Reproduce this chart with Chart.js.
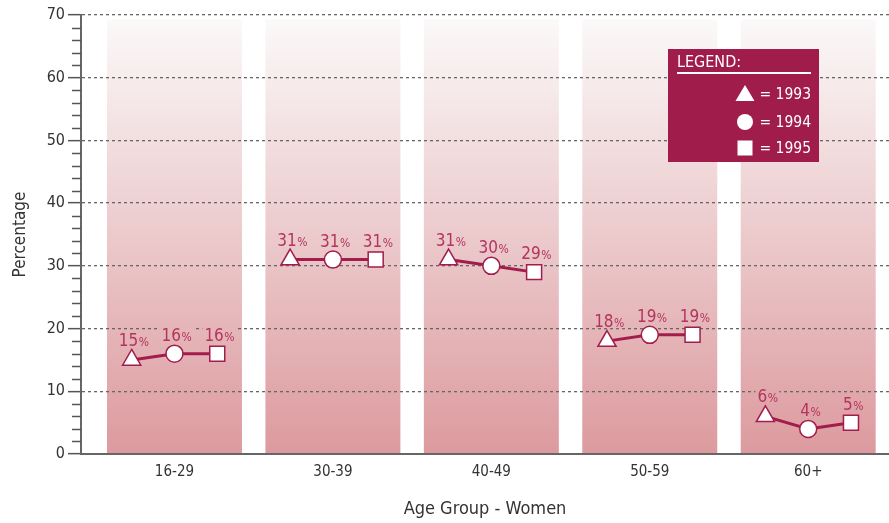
<!DOCTYPE html>
<html>
<head>
<meta charset="utf-8">
<script src="https://cdn.jsdelivr.net/npm/chart.js@4/dist/chart.umd.min.js"></script>
<style>
	html, body { margin: 0; padding: 0; background: #fff; }
</style>
</head>
<body>
<canvas id="lineChart" width="889" height="523"></canvas>
<script>
// chart data
var categories = ['16-29', '30-39', '40-49', '50-59', '60+'];
var years = ['1993', '1994', '1995'];
var values1993 = [15, 31, 31, 18, 6];
var values1994 = [16, 31, 30, 19, 4];
var values1995 = [16, 31, 29, 19, 5];
var yTicks = [0, 10, 20, 30, 40, 50, 60, 70];

var FONT = "'Liberation Sans Narrow', 'DejaVu Sans Condensed', 'Roboto', sans-serif";
var CRIMSON = '#a21d4b';
var LABEL_COLOR = '#b3345e';
var styles = ['triangle', 'circle', 'rect'];
var offsets = [-0.27, 0, 0.27];
var series = [values1993, values1994, values1995];

// one line per age group, three points (one per year)
var datasets = categories.map(function (cat, i) {
	return {
		label: cat,
		data: series.map(function (vals, j) {
			return { x: i + offsets[j], y: vals[i] };
		}),
		borderColor: CRIMSON,
		borderWidth: 3,
		pointStyle: styles,
		pointRadius: [10.5, 8.5, 10.6],
		pointBackgroundColor: '#fff',
		pointBorderColor: CRIMSON,
		pointBorderWidth: 1.5
	};
});

function bandGradient(chart) {
	var y = chart.scales.y;
	var grad = chart.ctx.createLinearGradient(0, y.getPixelForValue(69.3), 0, y.getPixelForValue(0));
	grad.addColorStop(0, '#fbf9f9');
	grad.addColorStop(1, '#dc9a9e');
	return grad;
}

// shaded column behind each age group
var bandPlugin = {
	id: 'bands',
	beforeDraw: function (chart) {
		var ctx = chart.ctx, x = chart.scales.x, y = chart.scales.y;
		var top = y.getPixelForValue(69.3), bottom = y.getPixelForValue(0);
		ctx.save();
		ctx.fillStyle = bandGradient(chart);
		categories.forEach(function (c, i) {
			var l = x.getPixelForValue(i - 0.426), r = x.getPixelForValue(i + 0.426);
			ctx.fillRect(l, top, r - l, bottom - top);
		});
		ctx.restore();
	}
};

// minor ticks on the y axis
var minorTickPlugin = {
	id: 'minorTicks',
	afterDraw: function (chart) {
		var ctx = chart.ctx, y = chart.scales.y, left = chart.chartArea.left;
		ctx.save();
		ctx.strokeStyle = '#555';
		ctx.lineWidth = 1.5;
		for (var v = 2; v < 70; v += 2) {
			if (v % 10 === 0) continue;
			var py = Math.round(y.getPixelForValue(v)) + 0.5;
			ctx.beginPath();
			ctx.moveTo(left - 9, py);
			ctx.lineTo(left, py);
			ctx.stroke();
		}
		ctx.restore();
	}
};

// value labels above the markers, with a smaller percent sign
function eachLabel(chart, fn) {
	var ctx = chart.ctx;
	chart.data.datasets.forEach(function (ds, i) {
		var meta = chart.getDatasetMeta(i);
		meta.data.forEach(function (pt, j) {
			var num = String(ds.data[j].y);
			ctx.font = '17px ' + FONT;
			var w1 = ctx.measureText(num).width;
			ctx.font = '12px ' + FONT;
			var w2 = ctx.measureText('%').width;
			var sx = pt.x - (w1 + w2) / 2 + 2;
			var by = pt.y - (j === 0 ? 14 : 13);
			fn(num, sx, by, w1, w2);
		});
	});
}

var valueLabelPlugin = {
	id: 'valueLabels',
	beforeDatasetsDraw: function (chart) {
		// clear the grid line behind each label
		var ctx = chart.ctx;
		ctx.save();
		ctx.fillStyle = bandGradient(chart);
		eachLabel(chart, function (num, sx, by, w1, w2) {
			ctx.fillRect(sx - 2, by - 14, w1 + w2 + 4, 15);
		});
		ctx.restore();
	},
	afterDatasetsDraw: function (chart) {
		var ctx = chart.ctx;
		ctx.save();
		ctx.fillStyle = LABEL_COLOR;
		ctx.textBaseline = 'alphabetic';
		eachLabel(chart, function (num, sx, by, w1) {
			ctx.font = '17px ' + FONT;
			ctx.fillText(num, sx, by);
			ctx.font = '12px ' + FONT;
			ctx.fillText('%', sx + w1 + 0.5, by);
		});
		ctx.restore();
	}
};

// legend box in the upper right
var legendBoxPlugin = {
	id: 'legendBox',
	afterDraw: function (chart) {
		var ctx = chart.ctx;
		var bx = 668, by = 49, bw = 151, bh = 113;
		ctx.save();
		ctx.fillStyle = '#a01c4a';
		ctx.fillRect(bx, by, bw, bh);
		ctx.fillStyle = '#fff';
		ctx.strokeStyle = '#fff';
		ctx.font = '16px ' + FONT;
		ctx.textBaseline = 'middle';
		ctx.textAlign = 'left';
		ctx.fillText('LEGEND:', 677, 63);
		ctx.lineWidth = 2;
		ctx.beginPath();
		ctx.moveTo(677, 73);
		ctx.lineTo(811, 73);
		ctx.stroke();
		var rowY = [94, 122, 148];
		ctx.textAlign = 'right';
		ctx.font = '15.5px ' + FONT;
		years.forEach(function (yr, j) {
			var cy = rowY[j], cx = 745;
			ctx.beginPath();
			if (j === 0) {
				ctx.moveTo(cx, cy - 9);
				ctx.lineTo(cx + 9.5, cy + 7);
				ctx.lineTo(cx - 9.5, cy + 7);
				ctx.closePath();
			} else if (j === 1) {
				ctx.arc(cx, cy, 8, 0, Math.PI * 2);
			} else {
				ctx.rect(cx - 7.5, cy - 7.5, 15, 15);
			}
			ctx.fill();
			ctx.fillText('= ' + yr, 811, cy + 1);
		});
		ctx.restore();
	}
};

var chart = new Chart(document.getElementById('lineChart'), {
	type: 'line',
	data: { datasets: datasets },
	options: {
		responsive: false,
		animation: false,
		layout: { autoPadding: false, padding: { top: 15, right: 0, left: 0, bottom: 0 } },
		plugins: {
			legend: { display: false },
			tooltip: { enabled: false }
		},
		scales: {
			x: {
				type: 'linear',
				min: -0.59,
				max: 4.51,
				afterBuildTicks: function (s) {
					s.ticks = categories.map(function (c, i) { return { value: i }; });
				},
				ticks: {
					callback: function (v) { return categories[v]; },
					color: '#333',
					font: { family: FONT, size: 15 },
					padding: 9,
					maxRotation: 0
				},
				grid: { display: false, drawTicks: false },
				border: { color: '#666', width: 2 },
				title: {
					display: true,
					text: 'Age Group - Women',
					color: '#333',
					font: { family: FONT, size: 18 },
					padding: { top: 0, bottom: 3 }
				},
				afterFit: function (s) {
					s.height = 69;
					s.paddingLeft = 0;
					s.paddingRight = 0;
				}
			},
			y: {
				min: 0,
				max: 70,
				afterBuildTicks: function (s) {
					s.ticks = yTicks.map(function (v) { return { value: v }; });
				},
				ticks: {
					color: '#333',
					font: { family: FONT, size: 16 },
					padding: 3
				},
				grid: {
					color: function (ctx) { return ctx.tick && ctx.tick.value === 0 ? 'rgba(0,0,0,0)' : '#666'; },
					lineWidth: 1.3,
					tickColor: '#555',
					tickLength: 13,
					tickWidth: 1.5
				},
				border: { color: '#666', width: 2, dash: [3, 3] },
				title: {
					display: true,
					text: 'Percentage',
					color: '#333',
					font: { family: FONT, size: 17 },
					padding: { top: 10, bottom: 0 }
				},
				afterFit: function (s) { s.width = 81; }
			}
		}
	},
	plugins: [bandPlugin, minorTickPlugin, valueLabelPlugin, legendBoxPlugin]
});
</script>
</body>
</html>
